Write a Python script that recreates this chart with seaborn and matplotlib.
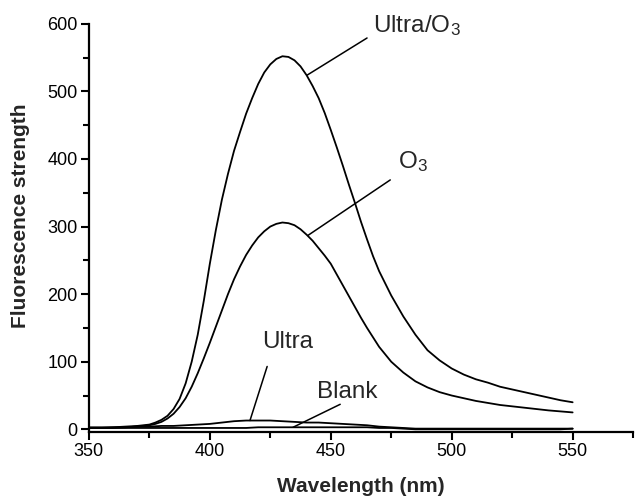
import numpy as np
import pandas as pd
import matplotlib
matplotlib.use("Agg")
import matplotlib.pyplot as plt
from matplotlib.ticker import MultipleLocator
import seaborn as sns

# wavelength grids (nm): finer sampling where the two big curves bend
wl_main = [350, 355, 360, 365] + list(np.arange(370, 470.1, 2.5)) + list(range(475, 551, 5))
wl_low = list(range(350, 551, 5))

# values
ultra_o3 = [3, 3, 3, 4,
            5, 6, 7, 10, 14, 20, 30, 45, 68, 100, 140, 190, 245, 295, 340, 378, 412, 440, 467, 490,
            511, 528, 540, 548, 552, 551, 546, 537, 524, 508, 490, 468, 443, 417, 390, 362, 335,
            307, 281, 256, 234,
            198, 167, 140, 117, 102, 90, 81, 74, 69, 63, 59, 55, 51, 47, 43, 40]
o3 = [2, 2, 2, 3,
      4, 5, 6, 8, 11, 16, 23, 33, 46, 63, 83, 105, 128, 152, 176, 200, 222, 241, 258, 272,
      284, 293, 300, 304, 306, 305, 302, 296, 288, 279, 268, 257, 245, 229, 213, 197, 181,
      165, 150, 136, 122,
      100, 84, 71, 62, 55, 50, 46, 42, 39, 36, 34, 32, 30, 28, 26.5, 25]
ultra = [2, 2, 3, 3, 4, 4, 5, 5, 6, 7, 8, 10, 12, 13, 13, 13, 12, 11, 10, 10,
         9, 8, 7, 6, 4, 3, 2, 1, 1, 1, 1, 1, 1, 1, 1, 1, 1, 1, 1, 1, 1]
blank = [2, 2, 2, 2, 2, 2, 2, 2, 2, 2, 2, 2, 2, 2, 3, 3, 3, 3, 3, 3,
         3, 3, 3, 3, 2, 2, 1, 0, 0, 0, 0, 0, 0, 0, 0, 0, 0, 0, 0, 0, 1]

parts = [
    pd.DataFrame({"wavelength": wl_main, "value": ultra_o3, "sample": "Ultra/O3"}),
    pd.DataFrame({"wavelength": wl_main, "value": o3, "sample": "O3"}),
    pd.DataFrame({"wavelength": wl_low, "value": ultra, "sample": "Ultra"}),
    pd.DataFrame({"wavelength": wl_low, "value": blank, "sample": "Blank"}),
]
df = pd.concat(parts, ignore_index=True)

sns.set_theme(style="ticks")
plt.rcParams["font.family"] = ["Liberation Sans", "DejaVu Sans"]
plt.rcParams["mathtext.fontset"] = "custom"
plt.rcParams["mathtext.rm"] = "Liberation Sans"
plt.rcParams["mathtext.it"] = "Liberation Sans"

fig = plt.figure(figsize=(6.35, 4.96), dpi=100)
ax = fig.add_axes([0.140, 0.129, 0.857, 0.823])

sns.lineplot(
    data=df, x="wavelength", y="value", hue="sample",
    palette=["black"] * 4, legend=False, linewidth=1.3, ax=ax,
)

ax.set_xlim(350, 575)
ax.set_ylim(-4, 600)
ax.xaxis.set_major_locator(MultipleLocator(50))
ax.xaxis.set_minor_locator(MultipleLocator(25))
ax.yaxis.set_major_locator(MultipleLocator(100))
ax.yaxis.set_minor_locator(MultipleLocator(50))
ax.set_xticks([350, 400, 450, 500, 550])

sns.despine(ax=ax)
for s in ["left", "bottom"]:
    ax.spines[s].set_linewidth(1.6)
    ax.spines[s].set_color("black")

ax.tick_params(which="major", length=6, width=1.5, labelsize=13, colors="black",
               direction="out", pad=2)
ax.tick_params(which="minor", length=4, width=1.5, direction="out", colors="black")

ax.set_xlabel("Wavelength (nm)", fontsize=15, fontweight="bold", labelpad=12)
ax.set_ylabel("Fluorescence strength", fontsize=15, fontweight="bold")
ax.yaxis.set_label_coords(-0.108, 0.53)

line = dict(arrowstyle="-", color="black", lw=1.1, shrinkA=0, shrinkB=0)
fs = 17.5
ax.annotate("", xy=(440.2, 524), xytext=(465, 579), arrowprops=line)
ax.text(467.5, 587, "Ultra/O$_3$", fontsize=fs, va="baseline", ha="left", clip_on=False)
ax.annotate("", xy=(440.6, 287), xytext=(474.6, 369), arrowprops=line)
ax.text(477.9, 387, "O$_3$", fontsize=fs, va="baseline", ha="left")
ax.annotate("", xy=(416.6, 13), xytext=(423.7, 93), arrowprops=line)
ax.text(432, 120, "Ultra", fontsize=fs, va="baseline", ha="center")
ax.annotate("", xy=(434.4, 3), xytext=(453.9, 37), arrowprops=line)
ax.text(457, 47, "Blank", fontsize=fs, va="baseline", ha="center")

fig.savefig("out.png", dpi=100)
plt.close(fig)
